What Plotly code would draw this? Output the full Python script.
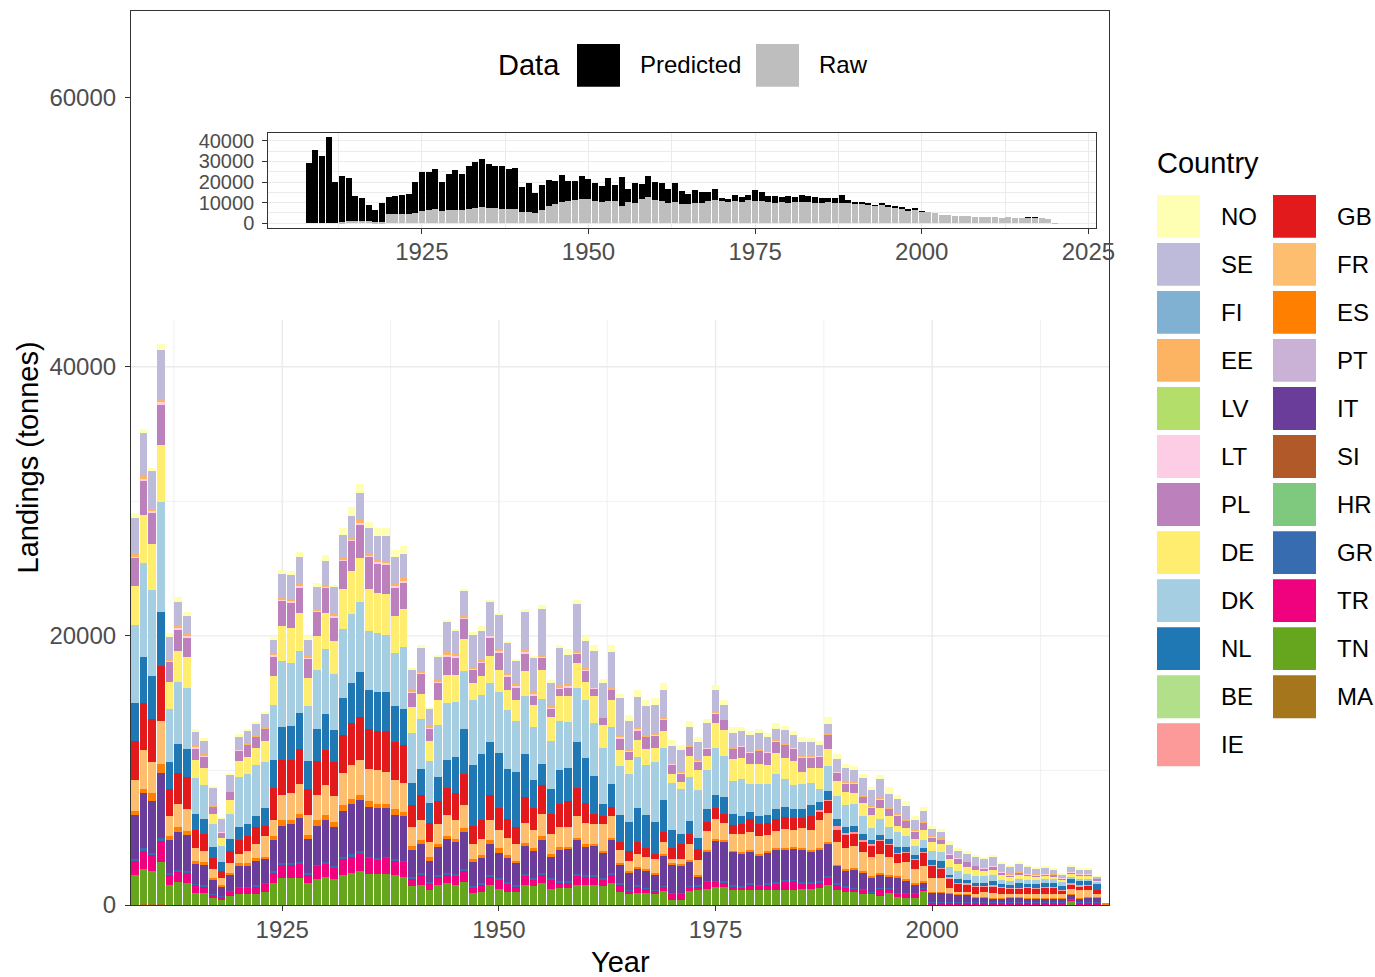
import plotly.graph_objects as go

# ---------------- data (thousand tonnes), years 1908-2020 ----------------
YEARS = list(range(1908, 2021))

TN = [2.2, 2.6, 2.5, 3.1, 1.5, 1.7, 1.6, 0.9, 0.9, 0.5, 0.35, 0.7,
      0.8, 0.8, 0.8, 1.0, 1.6, 2.0, 2.0, 2.0, 1.6, 1.9,
      2.1, 1.9, 2.2, 2.4, 2.5, 2.3, 2.3, 2.3, 2.2, 2.1,
      1.4, 1.5, 1.1, 1.5, 1.6, 1.5, 1.7, 0.9, 1.0, 1.5,
      1.2, 1.0, 1.0, 1.5, 1.4, 1.6, 1.2, 1.3, 1.3, 1.5,
      1.5, 1.5, 1.4, 1.6, 1.0, 0.8, 0.9, 0.9, 0.8, 1.05,
      0.35, 0.4, 1.05, 1.1, 1.2, 1.35, 1.35, 1.1, 1.1, 1.1,
      1.1, 1.1, 1.1, 1.15, 1.15, 1.2, 1.2, 1.3, 1.45, 1.1,
      1.0, 0.95, 0.85, 0.8, 0.7, 0.9, 0.6, 0.55, 0.55, 1.1,
      0, 0, 0, 0, 0, 0, 0, 0, 0, 0,
      0, 0, 0, 0, 0, 0, 0.3, 0, 0, 0, 0]
TR = [1.1, 1.4, 1.2, 1.6, 0.8, 0.8, 0.8, 0.6, 0.5, 0.3, 0.25, 0.3,
      0.5, 0.5, 0.6, 0.6, 0.8, 1.0, 1.0, 1.1, 0.7, 1.0,
      1.0, 0.9, 1.2, 1.2, 1.3, 1.2, 1.1, 1.2, 1.1, 1.1,
      0.6, 0.8, 0.5, 0.6, 0.7, 0.7, 0.9, 0.4, 0.5, 0.6,
      0.7, 0.6, 0.4, 0.7, 0.5, 0.7, 0.7, 0.4, 0.4, 0.7,
      0.6, 0.6, 0.5, 0.7, 0.5, 0.3, 0.5, 0.3, 0.3, 0.3,
      0.5, 0.45, 0.3, 0.3, 0.55, 0.4, 0.35, 0.3, 0.2, 0.4,
      0.35, 0.4, 0.5, 0.6, 0.65, 0.4, 0.4, 0.35, 0.6, 0.4,
      0.3, 0.3, 0.3, 0.15, 0.5, 0.35, 0.25, 0.3, 0.3, 0.1,
      0.15, 0.15, 0.15, 0.15, 0.15, 0.15, 0.15, 0.15, 0.15, 0.15,
      0.15, 0.15, 0.15, 0.15, 0.15, 0.15, 0.1, 0.15, 0.15, 0.2, 0]
GR = [0.1, 0.15, 0.15, 0.2, 0.1, 0.1, 0.1, 0.05, 0.05, 0.05, 0.05, 0.05,
      0.05, 0.05, 0.05, 0.05, 0.1, 0.1, 0.1, 0.1, 0.1, 0.1,
      0.1, 0.1, 0.2, 0.2, 0.2, 0.1, 0.1, 0.1, 0.1, 0.1,
      0.1, 0.1, 0.1, 0.1, 0.1, 0.1, 0.1, 0.1, 0.1, 0.1,
      0.1, 0.1, 0.1, 0.1, 0.1, 0.1, 0.1, 0.1, 0.1, 0.1,
      0.1, 0.1, 0.1, 0.1, 0.1, 0.05, 0.1, 0.1, 0.05, 0.05,
      0.05, 0.05, 0.05, 0.05, 0.05, 0.05, 0.05, 0.05, 0.1, 0.1,
      0.05, 0.1, 0.1, 0.1, 0.05, 0.1, 0.1, 0.1, 0.1, 0.1,
      0.1, 0.05, 0.05, 0.05, 0.05, 0.05, 0.05, 0.05, 0.05, 0.05,
      0.05, 0.05, 0.05, 0.05, 0.05, 0.05, 0.05, 0.05, 0.05, 0.05,
      0.05, 0.05, 0.05, 0.05, 0.05, 0.05, 0.05, 0.05, 0.05, 0.05, 0]
IT = [3.3, 4.1, 3.8, 4.8, 2.4, 2.8, 2.7, 1.5, 1.55, 1.05, 0.75, 1.15,
      1.55, 1.55, 1.85, 1.75, 2.3, 2.8, 2.9, 3.3, 2.5, 2.9,
      3.1, 2.9, 3.4, 3.7, 3.8, 3.7, 3.7, 3.6, 3.3, 3.3,
      2.0, 2.1, 1.6, 2.1, 2.5, 2.4, 2.7, 1.8, 1.9, 2.3,
      1.9, 1.8, 1.6, 2.1, 2.0, 2.4, 1.6, 2.3, 2.4, 2.5,
      2.1, 2.2, 1.9, 2.4, 1.4, 1.2, 1.2, 1.3, 1.15, 2.3,
      2.1, 2.05, 1.85, 0.7, 2.2, 3.0, 2.95, 2.5, 2.4, 2.4,
      2.2, 2.3, 2.4, 2.3, 2.35, 2.4, 2.3, 2.4, 2.4, 1.3,
      1.15, 1.35, 1.25, 1.05, 1.05, 0.85, 1.15, 0.95, 0.65, 0.45,
      0.7, 0.7, 0.65, 0.55, 0.55, 0.35, 0.35, 0.3, 0.3, 0.35,
      0.35, 0.3, 0.3, 0.3, 0.3, 0.3, 0.3, 0.3, 0.35, 0.3, 0]
ES = [0.3, 0.3, 0.6, 0.7, 0.3, 0.4, 0.3, 0.2, 0.2, 0.1, 0.1, 0.2,
      0.2, 0.2, 0.2, 0.2, 0.3, 0.4, 0.3, 0.3, 0.3, 0.4,
      0.4, 0.4, 0.4, 0.4, 0.4, 0.4, 0.3, 0.3, 0.4, 0.3,
      0.3, 0.3, 0.3, 0.2, 0.2, 0.2, 0.3, 0.2, 0.2, 0.3,
      0.3, 0.2, 0.2, 0.2, 0.2, 0.3, 0.2, 0.2, 0.1, 0.2,
      0.2, 0.1, 0.1, 0.2, 0.1, 0.15, 0.1, 0.1, 0.1, 0.1,
      0.1, 0.1, 0.1, 0.1, 0.1, 0.1, 0.1, 0.1, 0.15, 0.1,
      0.1, 0.1, 0.1, 0.1, 0.1, 0.1, 0.1, 0.1, 0.1, 0.1,
      0.1, 0.1, 0.1, 0.1, 0.1, 0.1, 0.1, 0.1, 0.1, 0.1,
      0.1, 0.1, 0.05, 0.05, 0.05, 0.05, 0.05, 0.05, 0.05, 0.05,
      0.05, 0.05, 0.05, 0.05, 0.05, 0.05, 0.05, 0.05, 0.05, 0.05, 0.08]
FR = [2.3, 2.9, 2.3, 3.2, 1.5, 1.7, 1.6, 1.0, 0.8, 0.7, 0.5, 0.7,
      0.7, 0.9, 1.0, 1.5, 1.2, 1.9, 2.0, 2.2, 1.5, 1.9,
      2.2, 1.9, 2.4, 2.5, 2.6, 2.4, 2.5, 2.4, 2.2, 2.2,
      1.4, 1.5, 1.1, 1.5, 1.6, 1.4, 1.7, 1.1, 1.2, 1.5,
      1.4, 1.3, 1.2, 1.5, 1.4, 1.7, 1.5, 1.5, 1.5, 1.6,
      1.6, 1.5, 2.0, 1.6, 1.0, 0.8, 1.0, 0.9, 1.0, 0.9,
      0.3, 0.4, 1.2, 1.1, 1.4, 1.5, 1.3, 1.2, 1.3, 1.3,
      1.3, 1.2, 1.3, 1.4, 1.3, 1.5, 1.5, 2.1, 2.2, 1.7,
      1.6, 1.6, 1.4, 1.4, 1.4, 1.35, 0.95, 1.25, 1.0, 1.1,
      1.0, 1.0, 0.4, 0.2, 0.15, 0.2, 0.35, 0.35, 0.25, 0.2,
      0.2, 0.25, 0.3, 0.3, 0.3, 0.25, 0.4, 0.55, 0.5, 0.25, 0]
GB = [2.9, 3.5, 3.2, 4.1, 2.0, 2.3, 2.4, 1.3, 1.3, 0.8, 0.5, 0.9,
      1.0, 1.1, 1.3, 0.8, 2.4, 2.6, 2.5, 2.6, 1.9, 2.5,
      2.6, 2.5, 2.8, 3.1, 3.2, 3.0, 2.9, 3.0, 2.8, 2.8,
      1.6, 1.9, 1.4, 1.7, 2.0, 2.0, 2.3, 1.4, 1.4, 1.9,
      1.6, 1.4, 1.3, 1.9, 1.6, 2.1, 1.5, 1.7, 1.9, 2.1,
      1.5, 0.8, 0.6, 0.7, 0.6, 0.7, 0.9, 0.6, 0.4, 0.7,
      0.8, 1.1, 0.7, 0.8, 0.7, 0.8, 0.7, 0.7, 0.8, 1.0,
      0.9, 0.9, 0.9, 0.9, 0.9, 0.8, 1.0, 0.6, 0.9, 0.9,
      1.0, 1.0, 0.8, 0.9, 1.0, 0.9, 0.7, 0.7, 0.7, 1.0,
      0.9, 0.7, 0.7, 0.6, 0.6, 0.55, 0.4, 0.5, 0.5, 0.45,
      0.4, 0.5, 0.4, 0.45, 0.45, 0.3, 0.35, 0.3, 0.35, 0.25, 0]
IE = [0, 0, 0, 0, 0, 0, 0, 0, 0, 0, 0, 0,
      0, 0, 0, 0, 0, 0, 0, 0, 0, 0,
      0, 0, 0, 0, 0, 0, 0, 0, 0, 0,
      0, 0, 0, 0, 0, 0, 0, 0, 0, 0,
      0, 0, 0, 0, 0, 0, 0, 0, 0, 0,
      0, 0, 0, 0, 0, 0, 0, 0, 0, 0,
      0, 0, 0, 0, 0, 0, 0, 0, 0, 0,
      0, 0, 0, 0, 0, 0, 0, 0.1, 0.05, 0.3,
      0.1, 0.05, 0.05, 0.05, 0.05, 0.05, 0.05, 0.05, 0.05, 0.05,
      0.05, 0.05, 0.05, 0.05, 0.05, 0.05, 0.05, 0.05, 0.05, 0.05,
      0.05, 0.05, 0.05, 0.05, 0.05, 0.05, 0.05, 0.05, 0.05, 0, 0]
NL = [2.8, 3.4, 3.2, 4.0, 2.0, 2.2, 2.1, 1.2, 1.1, 0.8, 0.7, 0.9,
      1.0, 0.9, 0.8, 1.3, 2.1, 2.4, 2.5, 2.7, 2.1, 2.4,
      2.7, 2.4, 2.8, 3.0, 3.3, 2.9, 2.9, 2.9, 2.7, 2.7,
      1.7, 1.9, 1.5, 1.8, 2.1, 2.7, 3.4, 4.5, 4.9, 3.9,
      4.1, 3.7, 4.1, 3.2, 2.1, 1.6, 1.8, 2.5, 2.5, 3.4,
      3.3, 2.8, 0.9, 1.7, 2.0, 2.2, 2.5, 2.5, 2.4, 2.4,
      1.4, 0.7, 1.0, 0.8, 0.9, 1.0, 1.2, 0.8, 0.6, 0.5,
      0.6, 0.6, 0.7, 0.7, 0.6, 0.6, 0.8, 0.6, 0.7, 0.5,
      0.45, 0.5, 0.5, 0.3, 0.35, 0.35, 0.45, 0.35, 0.3, 0.3,
      0.4, 0.5, 0.2, 0.3, 0.25, 0.25, 0.2, 0.3, 0.2, 0.2,
      0.4, 0.2, 0.25, 0.3, 0.3, 0.25, 0.3, 0.3, 0.3, 0.45, 0]
DK = [5.8, 7.0, 6.4, 8.2, 4.0, 4.6, 4.5, 2.7, 2.5, 1.7, 1.2, 1.9,
      3.7, 3.7, 3.8, 3.4, 4.1, 4.9, 4.7, 4.6, 4.1, 4.4,
      4.8, 4.2, 5.1, 5.1, 5.2, 4.4, 4.4, 4.3, 3.9, 4.6,
      3.7, 3.7, 3.1, 3.9, 4.2, 4.1, 4.3, 4.8, 4.4, 4.4,
      4.5, 4.4, 3.8, 4.3, 3.9, 4.8, 3.6, 3.7, 3.4, 4.0,
      4.3, 3.9, 4.2, 4.2, 3.6, 3.5, 3.8, 3.7, 4.4, 3.9,
      3.5, 3.4, 3.3, 3.6, 2.9, 3.5, 3.1, 2.5, 2.7, 2.1,
      2.4, 2.3, 2.6, 2.1, 1.8, 1.9, 1.7, 1.0, 1.8, 1.7,
      1.6, 1.6, 1.3, 0.9, 1.2, 0.9, 1.1, 0.8, 0.7, 0.6,
      0.7, 0.7, 0.6, 0.6, 0.45, 0.5, 0.55, 0.45, 0.3, 0.3,
      0.3, 0.3, 0.3, 0.3, 0.25, 0.3, 0.2, 0.2, 0.15, 0.2, 0]
DE = [2.9, 3.6, 3.4, 4.2, 2.0, 2.3, 2.3, 1.3, 1.3, 0.8, 0.6, 1.0,
      1.2, 1.3, 1.3, 1.6, 2.1, 2.6, 2.6, 2.8, 2.1, 2.5,
      2.7, 2.4, 3.0, 3.2, 3.3, 3.1, 3.0, 3.0, 2.8, 2.8,
      1.9, 1.9, 1.5, 1.8, 2.1, 2.0, 2.4, 1.3, 1.4, 2.0,
      1.7, 1.5, 1.5, 1.9, 1.7, 2.2, 1.8, 1.8, 1.9, 1.9,
      1.4, 2.0, 1.7, 2.0, 1.2, 1.1, 1.3, 1.2, 1.1, 1.2,
      0.6, 0.5, 1.5, 1.5, 1.1, 1.8, 1.9, 1.6, 1.6, 1.5,
      1.5, 1.4, 1.6, 1.6, 1.8, 0.9, 1.1, 1.5, 1.3, 1.1,
      1.0, 0.8, 1.0, 1.0, 0.8, 0.8, 0.5, 0.6, 0.5, 0.7,
      0.6, 0.6, 0.6, 0.5, 0.5, 0.45, 0.35, 0.4, 0.4, 0.3,
      0.3, 0.3, 0.25, 0.25, 0.25, 0.2, 0.25, 0.25, 0.25, 0.1, 0]
PL = [2.1, 2.5, 2.3, 3.0, 1.5, 1.6, 1.5, 0.9, 0.8, 0.5, 0.4, 0.6,
      0.8, 0.9, 0.8, 0.9, 1.5, 1.9, 1.9, 1.9, 1.4, 1.8,
      1.9, 1.8, 2.1, 2.3, 2.5, 2.4, 2.2, 2.2, 2.1, 2.0,
      1.1, 1.5, 0.9, 1.3, 1.4, 1.3, 1.5, 1.0, 1.0, 1.4,
      1.3, 1.0, 1.0, 1.3, 0.7, 0.9, 0.6, 0.6, 0.7, 0.7,
      0.8, 0.6, 0.5, 0.8, 0.9, 0.6, 0.7, 0.9, 0.9, 0.9,
      0.75, 0.65, 0.7, 0.65, 0.5, 0.75, 0.75, 0.75, 0.85, 0.85,
      0.95, 0.95, 0.85, 0.95, 0.95, 1.05, 0.75, 0.9, 1.05, 0.65,
      0.65, 0.75, 0.45, 0.55, 0.65, 0.55, 0.75, 0.55, 0.55, 0.55,
      0.4, 0.3, 0.3, 0.4, 0.4, 0.3, 0.2, 0.25, 0.2, 0.1,
      0.15, 0.15, 0.1, 0.1, 0.1, 0.1, 0.1, 0.1, 0.1, 0.1, 0]
LT = [0.1, 0.15, 0.15, 0.2, 0.1, 0.1, 0.1, 0.1, 0.1, 0.05, 0.05, 0.05,
      0.05, 0.05, 0.05, 0.05, 0.1, 0.1, 0.1, 0.1, 0.1, 0.1,
      0.1, 0.1, 0.1, 0.1, 0.1, 0.1, 0.1, 0.1, 0.1, 0.1,
      0.1, 0.1, 0.1, 0.1, 0.1, 0.1, 0.1, 0.1, 0.1, 0.1,
      0.1, 0.1, 0.1, 0.1, 0.1, 0.1, 0.1, 0.1, 0.1, 0.1,
      0.1, 0.05, 0.05, 0.05, 0.1, 0.05, 0.1, 0.05, 0.05, 0.05,
      0.05, 0.05, 0.05, 0.05, 0.1, 0.05, 0.05, 0.05, 0.05, 0.05,
      0.05, 0.05, 0.05, 0.05, 0.05, 0.05, 0.05, 0.05, 0.05, 0.05,
      0.05, 0.05, 0.05, 0.05, 0.05, 0.05, 0.05, 0.05, 0.05, 0.05,
      0.05, 0.05, 0.05, 0.05, 0.05, 0.05, 0.05, 0.05, 0.05, 0.05,
      0.05, 0.05, 0.05, 0.05, 0.05, 0.05, 0.05, 0.05, 0.05, 0, 0]
EE = [0.2, 0.2, 0.2, 0.2, 0.1, 0.2, 0.2, 0.1, 0.1, 0.05, 0.05, 0.05,
      0.05, 0.05, 0.05, 0.05, 0.1, 0.2, 0.1, 0.2, 0.1, 0.1,
      0.1, 0.2, 0.1, 0.1, 0.2, 0.1, 0.2, 0.2, 0.2, 0.2,
      0.1, 0.1, 0.1, 0.1, 0.2, 0.2, 0.1, 0.1, 0.1, 0.1,
      0.1, 0.1, 0.1, 0.2, 0.1, 0.1, 0.1, 0.1, 0.1, 0.1,
      0.1, 0.05, 0.05, 0.05, 0.05, 0.05, 0.05, 0.05, 0.05, 0.05,
      0.05, 0.05, 0.05, 0.05, 0.05, 0.05, 0.05, 0.05, 0.05, 0.05,
      0.05, 0.05, 0.05, 0.05, 0.05, 0.05, 0.05, 0.05, 0.05, 0.05,
      0.05, 0.05, 0.05, 0.05, 0.05, 0.05, 0.05, 0.05, 0.05, 0.05,
      0.05, 0.05, 0.05, 0.05, 0.05, 0.05, 0.05, 0.05, 0.05, 0.05,
      0.05, 0.05, 0.05, 0.05, 0.05, 0.05, 0.05, 0.05, 0.05, 0, 0]
SE = [2.7, 3.2, 2.8, 3.7, 1.6, 1.7, 1.3, 1.0, 1.0, 1.3, 0.9, 1.2,
      0.9, 1.0, 0.9, 1.0, 1.0, 1.7, 1.8, 2.0, 1.2, 1.6,
      1.8, 1.9, 1.7, 1.6, 2.0, 1.9, 1.7, 1.8, 2.0, 1.8,
      1.5, 1.7, 1.3, 1.8, 2.3, 1.7, 1.9, 2.4, 2.2, 2.4,
      2.6, 2.3, 1.8, 2.8, 2.6, 3.4, 1.7, 2.8, 2.2, 3.5,
      2.0, 2.7, 2.5, 2.7, 2.8, 2.2, 2.3, 2.2, 2.2, 2.1,
      1.3, 1.6, 1.4, 1.3, 1.8, 1.6, 1.0, 1.1, 1.0, 1.2,
      1.2, 1.0, 0.8, 1.0, 0.9, 1.1, 1.1, 0.75, 0.7, 0.9,
      1.0, 0.9, 1.3, 1.2, 1.4, 1.0, 1.1, 1.0, 0.8, 0.8,
      0.5, 0.5, 0.6, 0.5, 0.5, 0.55, 0.65, 0.6, 0.55, 0.55,
      0.55, 0.45, 0.4, 0.35, 0.3, 0.2, 0.3, 0.25, 0.25, 0.15, 0]
NO = [0.3, 0.3, 0.2, 0.4, 0.3, 0.4, 0.3, 0.2, 0.2, 0.1, 0.1, 0.1,
      0.2, 0.1, 0.1, 0.1, 0.2, 0.3, 0.3, 0.3, 0.3, 0.3,
      0.4, 0.2, 0.5, 0.7, 0.7, 0.5, 0.6, 0.6, 0.5, 0.6,
      0.1, 0.2, 0.1, 0.1, 0.1, 0.1, 0.1, 0.2, 0.3, 0.2,
      0.1, 0.1, 0.1, 0.2, 0.1, 0.3, 0.2, 0.2, 0.4, 0.3,
      0.4, 0.4, 0.3, 0.5, 0.35, 0.4, 0.5, 0.4, 0.5, 0.5,
      0.4, 0.4, 0.4, 0.4, 0.3, 0.4, 0.4, 0.4, 0.35, 0.3,
      0.3, 0.3, 0.5, 0.3, 0.3, 0.3, 0.25, 0.3, 0.5, 0.35,
      0.3, 0.25, 0.3, 0.2, 0.3, 0.5, 0.3, 0.35, 0.3, 0.3,
      0.2, 0.2, 0.3, 0.2, 0.2, 0.2, 0.15, 0.15, 0.1, 0.1,
      0.1, 0.1, 0.1, 0.1, 0.1, 0.1, 0.1, 0.1, 0.1, 0.05, 0]
# countries with only occasional, very small landings (year -> thousand tonnes)
MA_SPARSE = {1909: 0.05, 1910: 0.05, 1911: 0.08}

# Raw (reported) part of the total (thousand tonnes)
RAW = [0, 0, 0, 0, 0, 0.5, 1.0, 1.0, 1.0, 1.0, 0.8, 0.8,
       4.3, 4.5, 4.5, 4.5, 5.2, 6.0, 6.5, 6.8, 5.8, 6.2,
       6.5, 6.5, 6.8, 7.6, 7.8, 7.5, 7.3, 7.0, 6.9, 6.9,
       5.3, 5.5, 5.0, 6.6, 8.2, 9.3, 10.4, 10.6, 11.4, 11.7,
       12.0, 10.6, 10.3, 10.8, 11.0, 8.5, 10.2, 9.6, 11.7, 12.5,
       11.4, 11.0, 9.8, 10.2, 9.4, 9.5, 10.0, 10.0, 10.8, 11.4,
       10.8, 10.4, 11.0, 10.2, 11.2, 11.0, 10.6, 10.2, 10.0, 10.2,
       10.0, 10.2, 10.4, 10.2, 10.0, 10.0, 10.2, 10.0, 9.8, 9.8,
       9.8, 9.6, 9.2, 8.4, 9.0, 8.2, 7.8, 7.4, 6.4, 6.8,
       5.8, 5.7, 4.8, 4.3, 4.1, 3.8, 3.6, 3.7, 3.3, 3.0,
       3.2, 3.0, 2.9, 2.9, 2.8, 2.5, 2.9, 2.7, 2.8, 2.2, 0.1]

LEGEND_ORDER = ["NO", "SE", "FI", "EE", "LV", "LT", "PL", "DE", "DK", "NL", "BE", "IE",
                "GB", "FR", "ES", "PT", "IT", "SI", "HR", "GR", "TR", "TN", "MA"]
COLORS = {"NO": "#FFFFB3", "SE": "#BEBADA", "FI": "#80B1D3", "EE": "#FDB462",
          "LV": "#B3DE69", "LT": "#FCCDE5", "PL": "#BC80BD", "DE": "#FFED6F",
          "DK": "#A6CEE3", "NL": "#1F78B4", "BE": "#B2DF8A", "IE": "#FB9A99",
          "GB": "#E31A1C", "FR": "#FDBF6F", "ES": "#FF7F00", "PT": "#CAB2D6",
          "IT": "#6A3D9A", "SI": "#B15928", "HR": "#7FC97F", "GR": "#386CB0",
          "TR": "#F0027F", "TN": "#66A61E", "MA": "#A6761D"}

MA = [MA_SPARSE.get(y, 0) for y in YEARS]
SERIES = {"NO": NO, "SE": SE, "EE": EE, "LT": LT, "PL": PL, "DE": DE, "DK": DK,
          "NL": NL, "IE": IE, "GB": GB, "FR": FR, "ES": ES, "IT": IT, "GR": GR,
          "TR": TR, "TN": TN, "MA": MA}
for k, v in SERIES.items():
    assert len(v) == len(YEARS), (k, len(v))
assert len(RAW) == len(YEARS)

# ---------------- geometry (page pixels) ----------------
PAGE_W, PAGE_H = 1375, 977
L, R, T, B = 131, 1109, 8, 905          # plot panel in page pixels
def px(xp):
    return (xp - L) / (R - L)
def py(yp):
    return (B - yp) / (B - T)

FONT = "Liberation Sans, Arial, sans-serif"
GRID = "#EBEBEB"
DARK = "#333333"
TICKC = "#4D4D4D"

fig = go.Figure()

# main stacked bars: bottom of stack = last legend entry (ggplot order)
for c in reversed(LEGEND_ORDER):
    if c not in SERIES:
        continue
    fig.add_trace(go.Bar(
        x=YEARS, y=[v * 1000 for v in SERIES[c]], name=c, width=0.88,
        marker=dict(color=COLORS[c], line=dict(width=0)),
        xaxis="x", yaxis="y", showlegend=False,
        hovertemplate=c + " %{x}: %{y:.0f} t<extra></extra>"))

# inset: raw (grey) + predicted (black)
totals = [sum(SERIES[c][i] for c in SERIES) for i in range(len(YEARS))]
raw_shown = [min(r, t) for r, t in zip(RAW, totals)]
pred = [t - r for r, t in zip(raw_shown, totals)]
fig.add_trace(go.Bar(x=YEARS, y=[v * 1000 for v in raw_shown], width=0.9,
                     marker=dict(color="#BEBEBE", line=dict(width=0)),
                     xaxis="x2", yaxis="y2", showlegend=False, name="Raw"))
fig.add_trace(go.Bar(x=YEARS, y=[v * 1000 for v in pred], width=0.9,
                     marker=dict(color="#000000", line=dict(width=0)),
                     xaxis="x2", yaxis="y2", showlegend=False, name="Predicted"))

ymax_in = max(totals) * 1000
shapes = []
# main gridlines (they stop below the inset)
GRID_TOP = 43500
for v, w in [(10000, 0.7), (30000, 0.7), (20000, 1.4), (40000, 1.4)]:
    shapes.append(dict(type="line", xref="x", yref="y", x0=1907.55, x1=2020.4, y0=v, y1=v,
                       line=dict(color=GRID, width=w), layer="below"))
for v, w in [(1912.5, 0.7), (1937.5, 0.7), (1962.5, 0.7), (1987.5, 0.7), (2012.5, 0.7),
             (1925, 1.4), (1950, 1.4), (1975, 1.4), (2000, 1.4)]:
    shapes.append(dict(type="line", xref="x", yref="y", x0=v, x1=v, y0=0, y1=GRID_TOP,
                       line=dict(color=GRID, width=w), layer="below"))

annotations = []
# Data legend
annotations.append(dict(text="Data", x=px(496), y=py(62), xref="paper", yref="paper",
                        xanchor="left", yanchor="middle", showarrow=False,
                        font=dict(size=29, color="black", family=FONT)))
for x0, col, lab in [(577, "#000000", "Predicted"), (756, "#BEBEBE", "Raw")]:
    shapes.append(dict(type="rect", xref="paper", yref="paper", x0=px(x0), x1=px(x0 + 43),
                       y0=py(84), y1=py(41), fillcolor=col, line=dict(width=0)))
    annotations.append(dict(text=lab, x=px(x0 + 61), y=py(62), xref="paper", yref="paper",
                            xanchor="left", yanchor="middle", showarrow=False,
                            font=dict(size=24, color="black", family=FONT)))

# Country legend (two columns)
annotations.append(dict(text="Country", x=px(1155), y=py(161), xref="paper", yref="paper",
                        xanchor="left", yanchor="middle", showarrow=False,
                        font=dict(size=29, color="black", family=FONT)))
for i, c in enumerate(LEGEND_ORDER):
    col, row = divmod(i, 12)
    kx = 1157 + col * 116
    cy = 214 + row * 48.2
    shapes.append(dict(type="rect", xref="paper", yref="paper", x0=px(kx), x1=px(kx + 43),
                       y0=py(cy + 21.5), y1=py(cy - 21.5), fillcolor=COLORS[c],
                       line=dict(width=0)))
    annotations.append(dict(text=c, x=px(kx + 62), y=py(cy), xref="paper", yref="paper",
                            xanchor="left", yanchor="middle", showarrow=False,
                            font=dict(size=24, color="black", family=FONT)))

# axis titles
annotations.append(dict(text="Landings (tonnes)", x=px(28), y=py(456), xref="paper",
                        yref="paper", textangle=-90, xanchor="center", yanchor="middle",
                        showarrow=False, font=dict(size=29, color="black", family=FONT)))
annotations.append(dict(text="Year", x=px(620), y=py(962), xref="paper", yref="paper",
                        xanchor="center", yanchor="middle", showarrow=False,
                        font=dict(size=29, color="black", family=FONT)))

def axis_style(size=24):
    return dict(ticks="outside", ticklen=5, tickwidth=1.1, tickcolor=DARK,
                tickfont=dict(size=size, color=TICKC, family=FONT), zeroline=False,
                showline=True, linecolor=DARK, linewidth=1.1, mirror=True)

fig.update_layout(
    width=PAGE_W, height=PAGE_H,
    margin=dict(l=L, r=PAGE_W - R, t=T, b=PAGE_H - B),
    paper_bgcolor="white", plot_bgcolor="white",
    barmode="stack", showlegend=False,
    font=dict(family=FONT),
    xaxis=dict(domain=[0, 1], range=[1907.55, 2020.4], tickvals=[1925, 1950, 1975, 2000],
               showgrid=False, ticklabelstandoff=-2, **axis_style()),
    yaxis=dict(domain=[0, 1], range=[0, 66444], tickvals=[0, 20000, 40000, 60000],
               ticktext=["0", "20000", "40000", "60000"], showgrid=False,
               ticklabelstandoff=4, **axis_style()),
    xaxis2=dict(domain=[px(268.3), px(1095.7)], anchor="y2", range=[1901.96, 2026.1],
                tickvals=[1925, 1950, 1975, 2000, 2025], showgrid=True, gridcolor=GRID,
                gridwidth=1.4,
                minor=dict(tickvals=[1912.5, 1937.5, 1962.5, 1987.5, 2012.5], showgrid=True,
                           gridcolor=GRID, gridwidth=0.7, ticks=""),
                ticklabelstandoff=-2, **axis_style()),
    yaxis2=dict(domain=[py(225.3), py(130.4)], anchor="x2",
                range=[-0.05 * ymax_in, 1.05 * ymax_in],
                tickvals=[0, 10000, 20000, 30000, 40000],
                ticktext=["0", "10000", "20000", "30000", "40000"],
                showgrid=True, gridcolor=GRID, gridwidth=1.4,
                minor=dict(tickvals=[5000, 15000, 25000, 35000], showgrid=True,
                           gridcolor=GRID, gridwidth=0.7, ticks=""),
                ticklabelstandoff=4, **axis_style(20)),
    shapes=shapes, annotations=annotations,
)

# the figure fills the whole window: drop the page's default body margin
fig.write_html("out.html",
               config={"displayModeBar": False},
               post_script="document.body.style.margin='0';"
                           "document.body.style.overflow='hidden';")
